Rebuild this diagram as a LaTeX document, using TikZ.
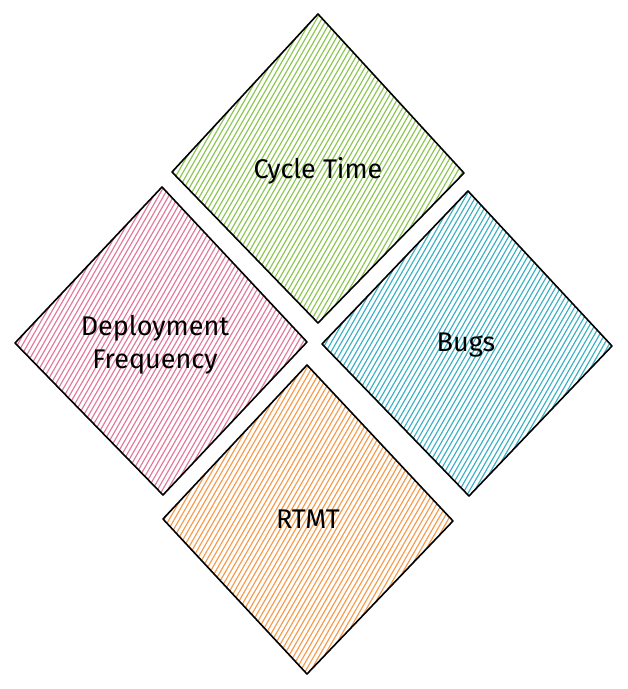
\documentclass[tikz,border=0pt]{standalone}
\usepackage{fontspec}
\setmainfont{Fira Sans}
\usetikzlibrary{calc}
\definecolor{hgreen}{HTML}{8CC652}
\definecolor{hpink}{HTML}{E2799A}
\definecolor{hcyan}{HTML}{3DB0C4}
\definecolor{horange}{HTML}{F59B4E}
\tikzset{
  edge/.style={draw=black, line width=1.6pt, line join=round},
  hach/.style={line width=1.15pt},
  lbl/.style={font=\fontsize{27}{33}\selectfont, text=black, align=center},
}
\newcommand{\hachdiamond}[6]{%
  % #1 name, #2 top, #3 right, #4 bottom, #5 left, #6 colour
  \coordinate (#1t) at #2; \coordinate (#1r) at #3;
  \coordinate (#1b) at #4; \coordinate (#1l) at #5;
  \coordinate (#1c) at ($(#1t)!0.5!(#1b)$);
  \begin{scope}
    \clip (#1t) -- (#1r) -- (#1b) -- (#1l) -- cycle;
    \begin{scope}[shift={(#1c)}, rotate=60]
      \foreach \k in {-44,...,44} {
        \draw[hach, #6] (-260, \k*4.4) -- (260, \k*4.4+1.5);
      }
    \end{scope}
  \end{scope}
  \draw[edge] (#1t) -- (#1r) -- (#1b) -- (#1l) -- cycle;
}
\begin{document}
\begin{tikzpicture}[x=1pt,y=1pt]
\useasboundingbox (0,0) rectangle (628,689);
\fill[white] (0,0) rectangle (628,689);
\hachdiamond{g}{(318,675)}{(464,516)}{(318,366)}{(172,517)}{hgreen}
\hachdiamond{p}{(162,502)}{(307,347)}{(163,194)}{(15,346)}{hpink}
\hachdiamond{c}{(468,498)}{(612,343)}{(469,193)}{(322,345)}{hcyan}
\hachdiamond{o}{(307,324)}{(453,168)}{(307,15)}{(163,170)}{horange}
\node[lbl] (tg) at (318,518) {Cycle Time};
\node[lbl] (tp) at (155,344) {Deployment\\Frequency};
\node[lbl] (tc) at (466,344) {Bugs};
\node[lbl] (to) at (308,170) {RTMT};
\end{tikzpicture}
\end{document}
